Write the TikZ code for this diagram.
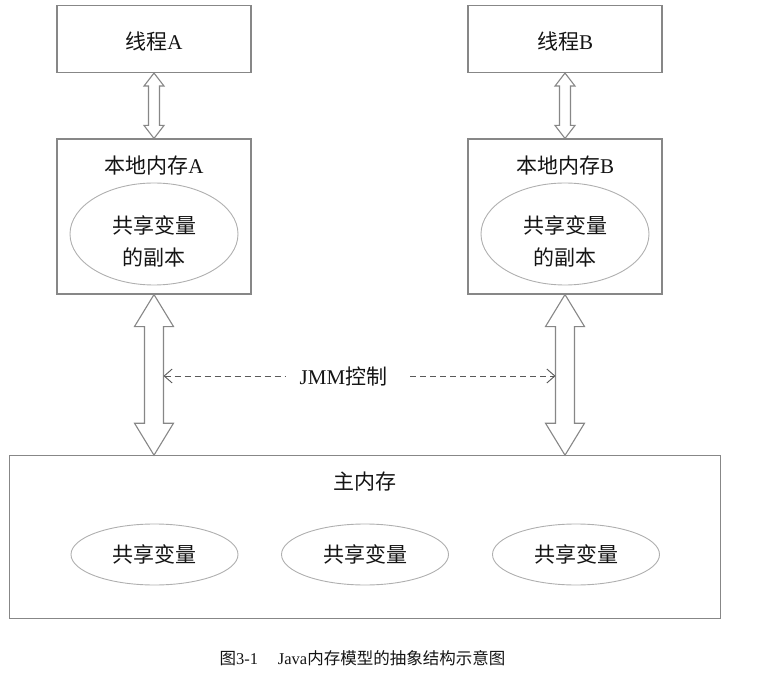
\documentclass[tikz,border=0pt]{standalone}
\usepackage{fontspec}
\setmainfont{Liberation Serif}
\newfontfamily\cjk{Noto Sans CJK SC}
\usetikzlibrary{calc,arrows.meta,shapes.geometric}
% hollow double arrow: from, to, half shaft, half head, head length
\newcommand{\hohlpfeil}[5]{%
  \draw[pfeil] (#1) -- ++(#4,#5) -- ++(-#4+#3,0) -- ($(#2)+(#3,-#5)$) -- ++(#4-#3,0)
    -- (#2) -- ++(-#4,-#5) -- ++(#4-#3,0) -- ($(#1)+(-#3,#5)$) -- ++(-#4+#3,0) -- cycle;}
\begin{document}
\begin{tikzpicture}[x=1pt,y=-1pt,
  wort/.style={text=schrift,font=\fontsize{21}{32}\selectfont,inner sep=0pt},
  kasten/.style={draw=rahmen,line width=1.1pt,minimum width=194pt,inner sep=0pt},
  kopie/.style={ellipse,draw=oval,line width=0.9pt,inner sep=0pt},
  pfeil/.style={draw=rahmen,fill=white,line width=1.1pt}]
\definecolor{rahmen}{RGB}{135,135,135}
\definecolor{oval}{RGB}{175,175,175}
\definecolor{schrift}{RGB}{20,20,20}
\useasboundingbox (0,0) rectangle (760,676);
% threads
\node[kasten,minimum height=67pt] (ta) at (154,39) {};
\node[kasten,minimum height=67pt] (tb) at (565,39) {};
\node[wort] (tat) at (154,41) {{\cjk 线程}A};
\node[wort] (tbt) at (565,41) {{\cjk 线程}B};
% local memory
\node[kasten,minimum height=155pt] (la) at (154,216.5) {};
\node[kasten,minimum height=155pt] (lb) at (565,216.5) {};
\node[wort] (lat) at (154,166) {{\cjk 本地内存}A};
\node[wort] (lbt) at (565,166) {{\cjk 本地内存}B};
\node[kopie,minimum width=168pt,minimum height=102pt] (ca) at (154,234) {};
\node[kopie,minimum width=168pt,minimum height=102pt] (cb) at (565,234) {};
\node[wort,align=center] (cat) at (154,241) {\cjk 共享变量\\\cjk 的副本};
\node[wort,align=center] (cbt) at (565,241) {\cjk 共享变量\\\cjk 的副本};
% main memory
\node[kasten,minimum width=711pt,minimum height=162.5pt] (mm) at (365,537) {};
\node[wort] (mmt) at (365,482) {\cjk 主内存};
\foreach \n/\x in {v1/154.5,v2/365,v3/576} {
  \node[kopie,minimum width=167pt,minimum height=61pt] (\n) at (\x,554.5) {};
  \node[wort] at (\n) {\cjk 共享变量};
}
% arrows
\hohlpfeil{ta.south}{la.north}{5.5}{10}{13}
\hohlpfeil{tb.south}{lb.north}{5.5}{10}{13}
\hohlpfeil{la.south}{la.south |- mm.north}{9.5}{19.5}{32}
\hohlpfeil{lb.south}{lb.south |- mm.north}{9.5}{19.5}{32}
% JMM control
\node[wort] (jmm) at (343.5,376) {JMM{\cjk 控制}};
\coordinate (dl) at ($(la.south |- jmm)+(9.5,0)$);
\coordinate (dr) at ($(lb.south |- jmm)+(-9.5,0)$);
\draw[black!65,line width=0.9pt,dash pattern=on 6pt off 4pt,{Straight Barb[length=8pt,width=14pt]}-]
  (dl) -- ([xshift=-14pt]jmm.west);
\draw[black!65,line width=0.9pt,dash pattern=on 6pt off 4pt,-{Straight Barb[length=8pt,width=14pt]}]
  ([xshift=23pt]jmm.east) -- (dr);
% caption
\node[text=schrift,font=\fontsize{16.5}{18}\selectfont] (cap) at (362.5,658)
  {{\cjk 图}3-1\hspace{1.2em}Java{\cjk 内存模型的抽象结构示意图}};
\end{tikzpicture}
\end{document}
